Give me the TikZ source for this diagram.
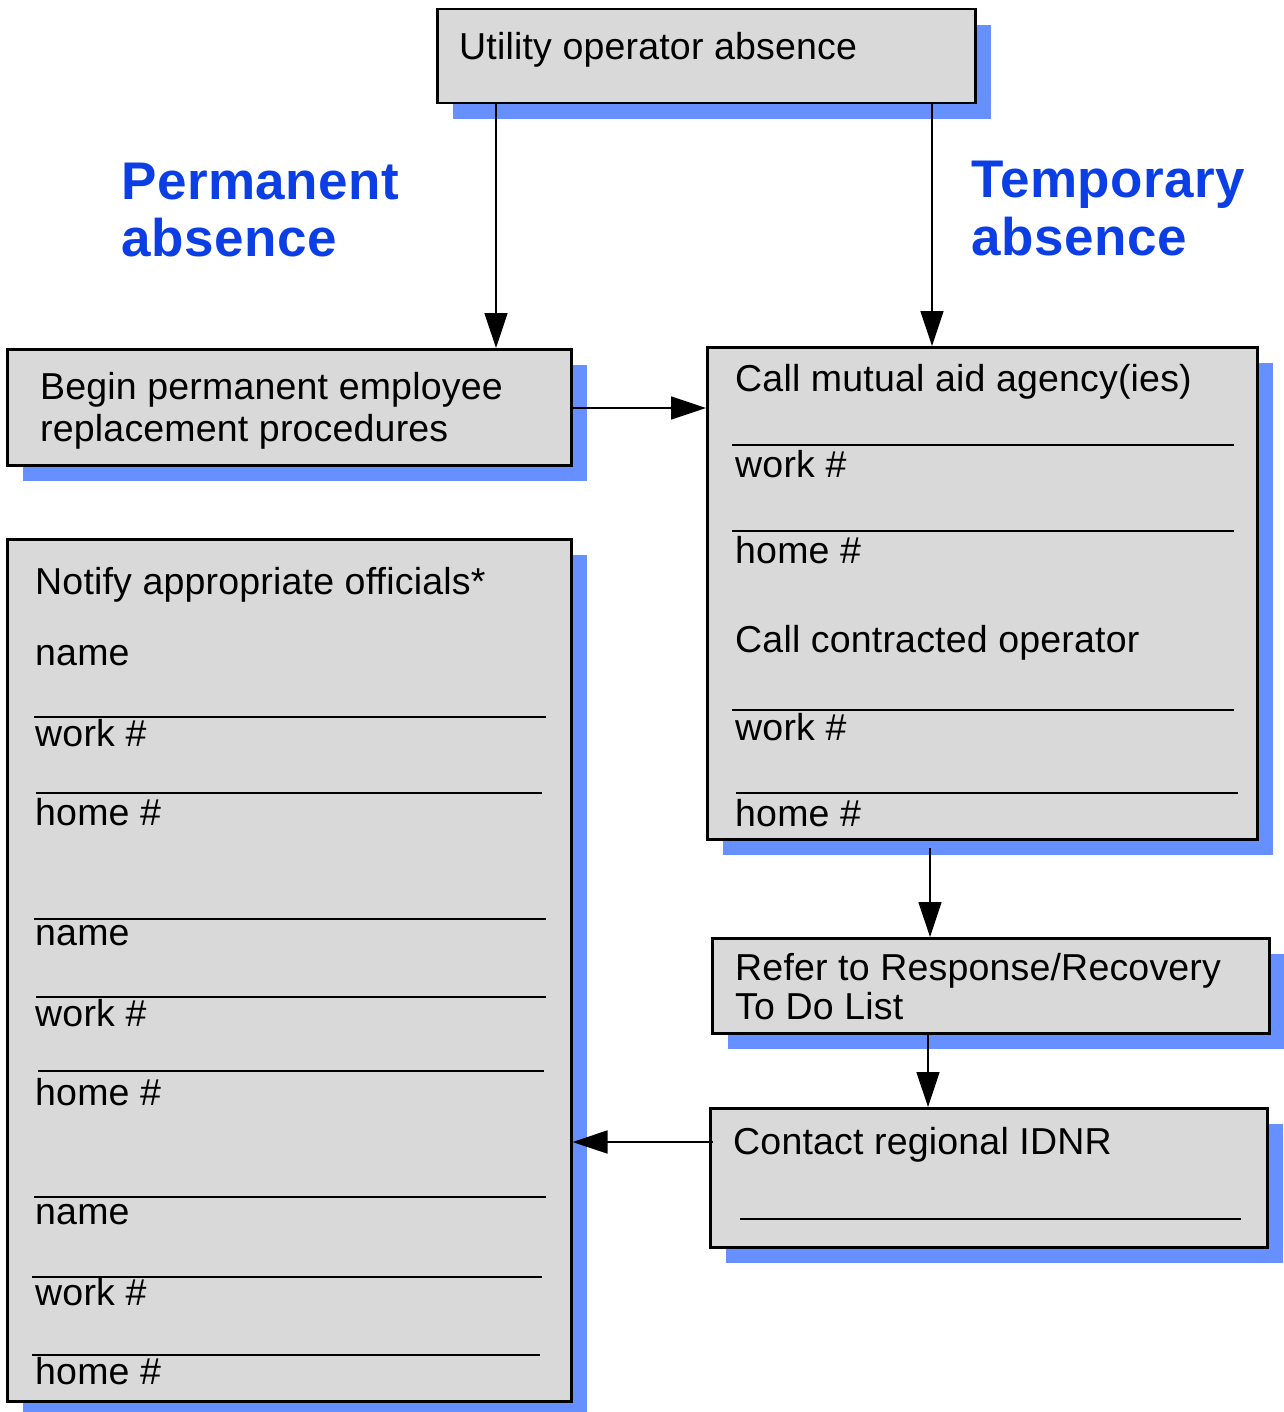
\documentclass[tikz,border=0pt]{standalone}
\usepackage{fontspec}
\setmainfont[LetterSpace=0.5]{Liberation Sans}
\newfontfamily\lblfont[LetterSpace=1.0]{Liberation Sans}
\usetikzlibrary{arrows.meta,shadows,calc}
\definecolor{shadowblue}{RGB}{102,143,255}
\definecolor{labelblue}{RGB}{12,62,230}
\definecolor{boxgray}{RGB}{217,217,217}
\begin{document}
\begin{tikzpicture}[x=1pt,y=-1pt,
  box/.style={draw=black, line width=2.5pt, fill=boxgray, inner sep=0pt, anchor=north west,
    drop shadow={shadow xshift=16pt, shadow yshift=-16pt, fill=shadowblue, opacity=1}},
  txt/.style={anchor=base west, inner sep=0pt, font=\fontsize{37.5}{41}\selectfont},
  lbl/.style={anchor=base west, inner sep=0pt, text=labelblue, font=\lblfont\fontsize{53}{57}\selectfont\bfseries},
  rule/.style={line width=1.5pt},
  conn/.style={line width=1.5pt, -{Triangle[length=35pt,width=23pt]}}]
\useasboundingbox (0,0) rectangle (1283,1412);

% boxes
\node[box, minimum width=538pt, minimum height=94pt] (util) at (436,8) {};
\node[box, minimum width=564pt, minimum height=116pt] (perm) at (6,348) {};
\node[box, minimum width=550pt, minimum height=492pt] (mutual) at (706,346) {};
\node[box, minimum width=564pt, minimum height=862pt] (notify) at (6,538) {};
\node[box, minimum width=557pt, minimum height=95pt] (refer) at (711,937) {};
\node[box, minimum width=557pt, minimum height=139pt] (idnr) at (709,1107) {};

% box texts
\node[txt] (tutil) at (459,60) {Utility operator absence};
\node[txt] (tperm1) at (40,399) {Begin permanent employee};
\node[txt] (tperm2) at (40,441) {replacement procedures};

\node[txt] (tm1) at (735,391) {Call mutual aid agency(ies)};
\node[txt] (tm2) at (735,477) {work \#};
\node[txt] (tm3) at (735,563) {home \#};
\node[txt] (tm4) at (735,652) {Call contracted operator};
\node[txt] (tm5) at (735,740) {work \#};
\node[txt] (tm6) at (735,826) {home \#};
\draw[rule] (732,445) -- (1234,445);
\draw[rule] (732,531) -- (1234,531);
\draw[line width=2.5pt] (732,710) -- (1234,710);
\draw[rule] (736,793) -- (1238,793);

\node[txt] (tn0) at (35,594) {Notify appropriate officials*};
\node[txt] (tn1) at (35,665) {name};
\node[txt] (tn2) at (35,746) {work \#};
\node[txt] (tn3) at (35,825) {home \#};
\node[txt] (tn4) at (35,945) {name};
\node[txt] (tn5) at (35,1026) {work \#};
\node[txt] (tn6) at (35,1105) {home \#};
\node[txt] (tn7) at (35,1224) {name};
\node[txt] (tn8) at (35,1305) {work \#};
\node[txt] (tn9) at (35,1384) {home \#};
\draw[rule] (34,717) -- (546,717);
\draw[rule] (36,793) -- (542,793);
\draw[rule] (34,919) -- (546,919);
\draw[rule] (36,997) -- (546,997);
\draw[rule] (38,1071) -- (544,1071);
\draw[rule] (34,1197) -- (546,1197);
\draw[rule] (32,1277) -- (542,1277);
\draw[rule] (32,1355) -- (540,1355);

\node[txt] (tr1) at (735,980) {Refer to Response/Recovery};
\node[txt] (tr2) at (735,1019) {To Do List};

\node[txt] (ti1) at (733,1154) {Contact regional IDNR};
\draw[rule] (740,1219) -- (1241,1219);

% side labels
\node[lbl] (lp1) at (121,200) {Permanent};
\node[lbl] (lp2) at (121,257) {absence};
\node[lbl] (lt1) at (971,198) {Temporary};
\node[lbl] (lt2) at (971,256) {absence};

% connectors
\coordinate (x496) at (496,0);
\coordinate (x932) at (932,0);
\coordinate (x930) at (930,0);
\coordinate (x928) at (928,0);
\coordinate (y408) at (0,408);
\coordinate (y1142) at (0,1142);
\draw[conn] (util.south -| x496) -- (perm.north -| x496);
\draw[conn] (util.south -| x932) -- (mutual.north -| x932);
\draw[conn] (perm.east |- y408) -- (mutual.west |- y408);
\draw[conn] ([yshift=-7pt]mutual.south -| x930) -- (refer.north -| x930);
\draw[conn] (refer.south -| x928) -- (idnr.north -| x928);
\draw[conn] ([xshift=4pt]idnr.west |- y1142) -- (notify.east |- y1142);
\end{tikzpicture}
\end{document}
